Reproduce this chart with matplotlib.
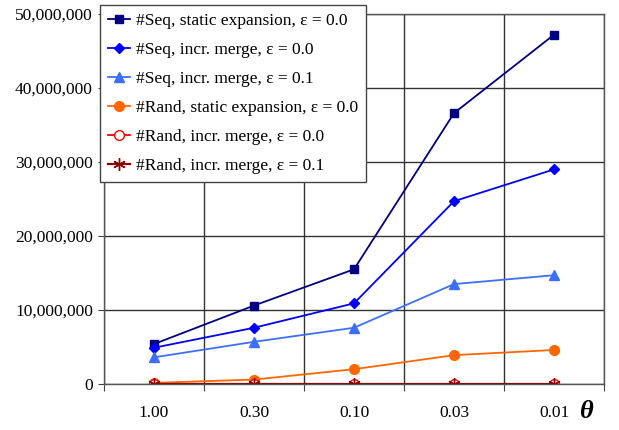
import numpy as np
import matplotlib.pyplot as plt
from matplotlib.ticker import FuncFormatter, FixedLocator

plt.rcParams['font.family'] = ['Liberation Serif', 'DejaVu Serif']

thetas = ['1.00', '0.30', '0.10', '0.03', '0.01']
seq_static_0 = [5.4e6, 10.6e6, 15.5e6, 36.6e6, 47.2e6]
seq_merge_0 = [4.9e6, 7.6e6, 10.9e6, 24.7e6, 29.0e6]
seq_merge_1 = [3.6e6, 5.7e6, 7.6e6, 13.5e6, 14.7e6]
rand_static_0 = [0.15e6, 0.6e6, 2.0e6, 3.9e6, 4.6e6]
rand_merge_0 = [0.05e6, 0.05e6, 0.05e6, 0.05e6, 0.05e6]
rand_merge_1 = [0.05e6, 0.05e6, 0.05e6, 0.05e6, 0.05e6]

fig = plt.figure(figsize=(6.19, 4.30), dpi=100)
ax = fig.add_axes([104/619, 46/430, 500/619, 370/430])

x = np.arange(len(thetas))
ax.plot(x, seq_static_0, color='#000080', marker='s', ms=6, lw=1.3,
        label='#Seq, static expansion, \u03b5 = 0.0')
ax.plot(x, seq_merge_0, color='#0000ff', marker='D', ms=5, lw=1.3,
        label='#Seq, incr. merge, \u03b5 = 0.0')
ax.plot(x, seq_merge_1, color='#3d6fff', marker='^', ms=7, lw=1.3,
        label='#Seq, incr. merge, \u03b5 = 0.1')
ax.plot(x, rand_static_0, color='#ff6600', marker='o', ms=7, lw=1.3,
        label='#Rand, static expansion, \u03b5 = 0.0')
ax.plot(x, rand_merge_0, color='#ff0000', marker='o', ms=7, lw=1.3,
        mfc='white', label='#Rand, incr. merge, \u03b5 = 0.0')
ax.plot(x, rand_merge_1, color='#8b0000', marker=(6, 2, 0), ms=9, lw=1.6,
        label='#Rand, incr. merge, \u03b5 = 0.1')

ax.set_xlim(-0.5, len(thetas) - 0.5)
ax.set_ylim(0, 50e6)
ax.set_yticks(np.arange(0, 50e6 + 1, 10e6))
ax.yaxis.set_major_formatter(FuncFormatter(lambda v, p: f'{int(v):,}'))

ax.xaxis.set_major_locator(FixedLocator(np.arange(-0.5, len(thetas))))
ax.xaxis.set_minor_locator(FixedLocator(x))
ax.set_xticklabels([])
ax.set_xticklabels(thetas, minor=True)
ax.tick_params(axis='x', which='major', length=5, direction='out', color='#444444')
ax.tick_params(axis='x', which='minor', length=0, pad=15, labelsize=12.5)
ax.tick_params(axis='y', length=4, direction='out', labelsize=12.5, pad=4,
               color='#444444')

ax.grid(True, which='major', color='#333333', lw=1.0)
for s in ax.spines.values():
    s.set_color('#555555')
    s.set_linewidth(1.0)

fig.text(587/619, 1 - 412/430, '\u03b8', fontsize=19, fontweight='bold',
         fontstyle='italic', ha='center', va='center')

leg = fig.legend(loc='upper left', bbox_to_anchor=(100/619, 1 - 5/430),
                 fontsize=12.5, handlelength=1.25, handletextpad=0.35,
                 labelspacing=0.74, borderpad=0.45, borderaxespad=0,
                 fancybox=False, framealpha=1, edgecolor='#444444')
leg.get_frame().set_linewidth(1.0)

plt.savefig('out.png', dpi=100)
